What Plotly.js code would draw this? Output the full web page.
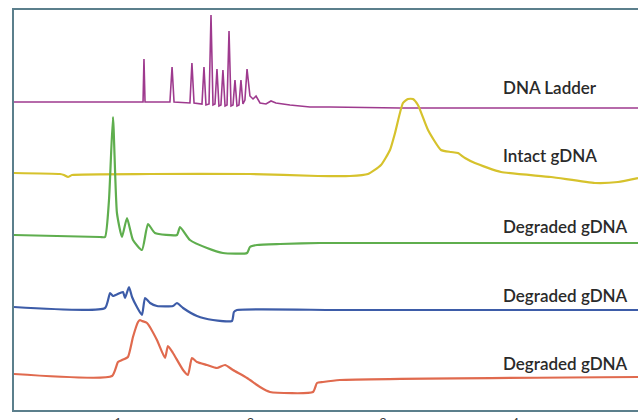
<!DOCTYPE html>
<html><head><meta charset="utf-8">
<script src="https://cdn.plot.ly/plotly-3.0.1.min.js"></script>
<style>html,body{margin:0;padding:0;background:#fff}#c{width:638px;height:420px}</style>
</head><body><div id="c"></div>
<script>
// Migration time (axis units) and stacked signal (arbitrary units, offset per lane)
var ladderX = [0.215,1.166,1.189,1.196,1.204,1.392,1.408,1.423,1.543,1.558,1.574,1.634,1.649,1.664,1.687,1.702,1.717,1.732,1.747,1.762,1.777,1.792,1.808,1.823,1.838,1.853,1.868,1.883,1.898,1.913,1.928,1.943,1.958,1.974,1.996,2.019,2.042,2.072,2.117,2.155,2.192,2.298,2.449,2.600,3.128,3.883,4.925];
var ladderY = [308,308,308,351,308,308,343,308,307,347,307,306,343,305,306,395,305,306,341,304,305,340,304,305,379,304,305,330,304,305,330,306,310,341,314,311,314,307,306,309,307,305,303,303,302,302,302];

var intactX = [0.215,0.562,0.592,0.623,0.653,1.242,1.996,2.509,2.751,2.887,2.985,3.053,3.091,3.151,3.189,3.226,3.264,3.340,3.438,3.513,3.566,3.619,3.694,3.891,4.268,4.600,4.774,4.925];
var intactY = [237,236,235,233,235,236,236,234,234,236,245,260,277,307,311,311,305,280,260,258,257,252,247,238,233,227,228,232];

var deg1X = [0.215,0.864,0.902,0.932,0.962,0.992,1.030,1.068,1.113,1.181,1.226,1.279,1.445,1.468,1.543,1.672,1.792,1.974,1.996,2.049,2.223,2.525,4.925];
var deg1Y = [175,173,173,210,293,197,173,192,170,160,186,177,175,183,170,162,157,157,163,165,166,167,167];

var deg2X = [0.215,0.902,0.940,0.962,1.015,1.038,1.053,1.083,1.106,1.143,1.181,1.204,1.242,1.294,1.415,1.445,1.491,1.596,1.717,1.860,1.875,1.898,2.675,4.925];
var deg2Y = [103,102,117,114,117,118,112,123,113,103,95,112,107,104,104,107,102,94,90,89,98,100,100,100];

var deg3X = [0.215,0.955,1.000,1.030,1.075,1.113,1.151,1.166,1.181,1.219,1.294,1.355,1.377,1.415,1.491,1.528,1.558,1.596,1.672,1.747,1.808,1.868,1.974,2.072,2.147,2.472,2.502,2.547,2.675,4.925];
var deg3Y = [36,34,48,50,53,73,88,90,89,87,70,52,64,57,40,35,52,48,45,42,45,40,32,23,18,18,27,28,30,33];

var laneLabels = ["DNA Ladder","Intact gDNA","Degraded gDNA","Degraded gDNA","Degraded gDNA"];
var labelY = [323,255,184,115,47];
var tickVals = [1,2,3,4];
var tickText = ["1","2","3","4"];

var colors = ["#9e3a8e","#d6c22c","#5fae4e","#3d5ca8","#e06a4e"];
var xs = [ladderX,intactX,deg1X,deg2X,deg3X];
var ys = [ladderY,intactY,deg1Y,deg2Y,deg3Y];
var traces = xs.map(function(x,i){
  return {x:x,y:ys[i],type:'scatter',mode:'lines',name:laneLabels[i],
    line:{color:colors[i],width:i===0?1.6:2.2,shape:i===0?'linear':'spline',smoothing:0.5},hoverinfo:'skip'};
});
var annotations = laneLabels.map(function(t,i){
  return {x:3.891,y:labelY[i],xref:'x',yref:'y',text:t,showarrow:false,xanchor:'left',yanchor:'middle',
    font:{family:'Lato, "Open Sans", sans-serif',size:17,color:'#2a2a2a',weight:600}};
});
var layout = {
  width:638,height:420,margin:{l:14,r:0,t:10,b:10},
  paper_bgcolor:'#fff',plot_bgcolor:'#fff',showlegend:false,
  xaxis:{range:[0.215,4.925],showline:true,linecolor:'#5b7f8c',linewidth:2,mirror:true,
    showgrid:false,zeroline:false,tickvals:tickVals,ticktext:tickText,ticks:'',
    tickfont:{family:'Lato, sans-serif',size:12,color:'#333'}},
  yaxis:{range:[0,400],showline:true,linecolor:'#5b7f8c',linewidth:2,mirror:false,
    showgrid:false,zeroline:false,showticklabels:false,ticks:''},
  annotations:annotations
};
Plotly.newPlot('c',traces,layout,{staticPlot:true,displayModeBar:false});
</script></body></html>
